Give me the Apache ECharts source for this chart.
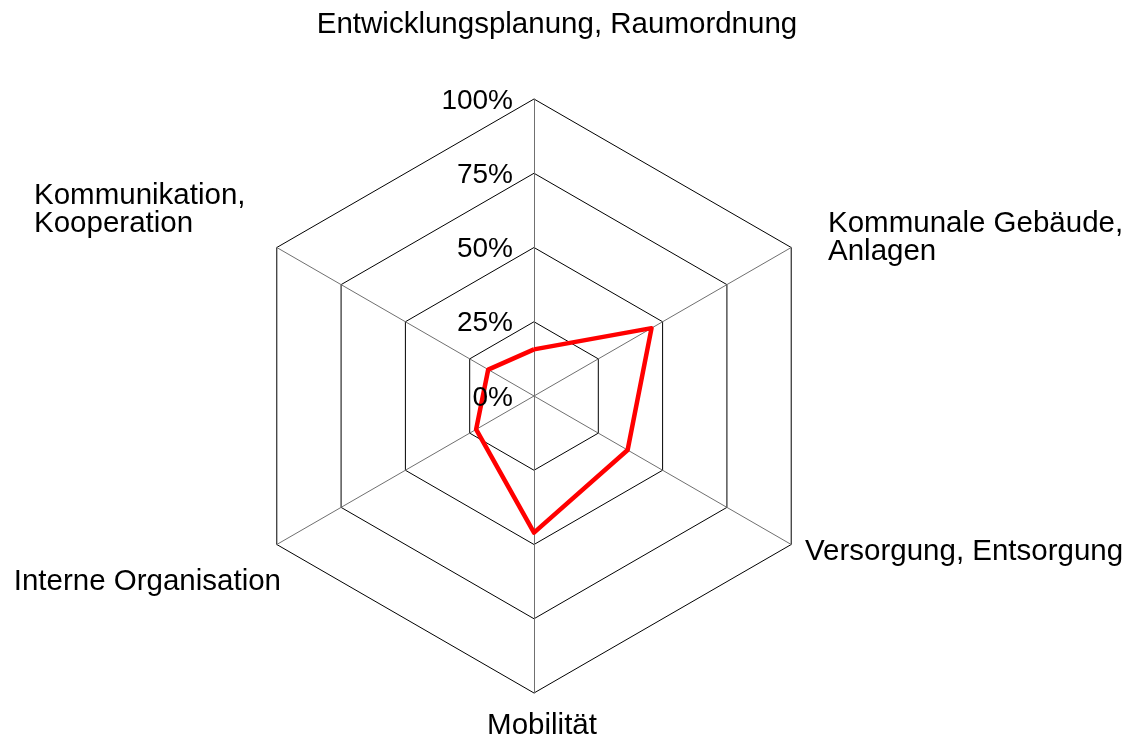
<!DOCTYPE html>
<html>
<head>
<meta charset="utf-8">
<script src="https://cdn.jsdelivr.net/npm/echarts@6/dist/echarts.min.js"></script>
<style>
html, body { margin: 0; padding: 0; background: #fff; }
#radar { width: 1131px; height: 736px; }
</style>
</head>
<body>
<div id="radar"></div>
<script>
// Achsen im Uhrzeigersinn, oben beginnend
var categories = ['Entwicklungsplanung, Raumordnung', 'Kommunale Gebäude,\nAnlagen', 'Versorgung, Entsorgung',
    'Mobilität', 'Interne Organisation', 'Kommunikation,\nKooperation'];
var values = [15.7, 45.7, 36.4, 46, 22.5, 17.8];
var tickValues = [0, 25, 50, 75, 100];
var tickLabels = ['0%', '25%', '50%', '75%', '100%'];

// Layout (nicht Daten)
var cx = 534, cy = 396, radius = 297;
var namePos = [
    [557, 25, 'center'],
    [828, 238, 'left'],
    [805, 552, 'left'],
    [542, 726, 'center'],
    [281, 582, 'right'],
    [34, 210, 'left']
];
var fontFamily = '"Liberation Sans", Arial, sans-serif';

function draw_radar() {
    var myChart = echarts.init(document.getElementById('radar'));
    // echarts legt die Achsen gegen den Uhrzeigersinn an
    var order = [0, 5, 4, 3, 2, 1];
    var indicator = order.map(function (i) {
        return {name: categories[i], min: 0, max: 100};
    });
    var data = order.map(function (i) { return values[i]; });

    var graphics = [];
    categories.forEach(function (name, i) {
        graphics.push({
            type: 'text',
            x: namePos[i][0],
            y: namePos[i][1],
            z: 100,
            style: {
                text: name,
                fontSize: 29.5,
                fontFamily: fontFamily,
                lineHeight: 28.5,
                fill: '#000',
                align: namePos[i][2],
                verticalAlign: 'middle'
            }
        });
    });
    tickValues.forEach(function (v, i) {
        graphics.push({
            type: 'text',
            x: cx - 21,
            y: cy - radius * v / 100 + 2,
            z: 100,
            style: {
                text: tickLabels[i],
                fontSize: 28,
                fontFamily: fontFamily,
                fill: '#000',
                align: 'right',
                verticalAlign: 'middle'
            }
        });
    });

    var option = {
        backgroundColor: '#fff',
        animation: false,
        radar: {
            center: [cx, cy],
            radius: radius,
            shape: 'polygon',
            splitNumber: 4,
            startAngle: 90,
            indicator: indicator,
            axisName: {show: false},
            axisLine: {lineStyle: {color: '#707070', width: 1}},
            splitLine: {lineStyle: {color: '#000', width: 1}},
            splitArea: {show: false},
            axisTick: {show: false},
            axisLabel: {show: false}
        },
        series: [{
            type: 'radar',
            symbol: 'none',
            lineStyle: {color: '#ff0000', width: 4.5},
            data: [{value: data, name: 'Bewertung'}]
        }],
        graphic: graphics
    };
    myChart.setOption(option);
}
draw_radar();
</script>
</body>
</html>
